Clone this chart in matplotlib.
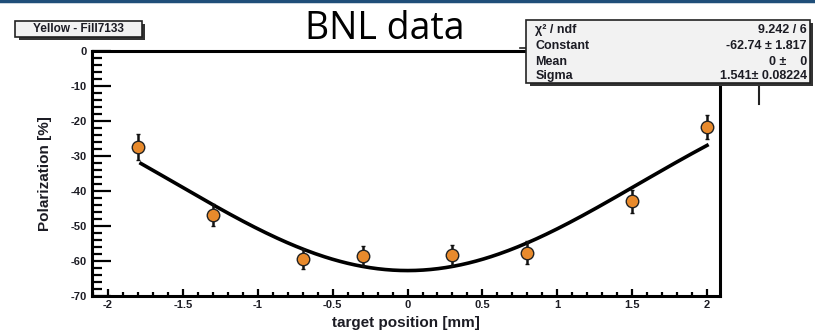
import numpy as np
import matplotlib.pyplot as plt
from matplotlib.ticker import MultipleLocator, FormatStrFormatter
from matplotlib.patches import Rectangle

# measured points
pos = [-1.8, -1.3, -0.7, -0.3, 0.3, 0.8, 1.5, 2.0]
pol = [-27.6, -46.9, -59.4, -58.5, -58.4, -57.7, -43.0, -21.8]
err = [3.7, 3.2, 2.8, 2.8, 2.9, 3.3, 3.3, 3.5]

# gaussian fit result
fit_const = -62.74
fit_mean = 0.0
fit_sigma = 1.541
fit_range = (-1.78, 2.0)

stat_labels = ["χ² / ndf", "Constant", "Mean", "Sigma"]
stat_values = ["9.242 / 6", "-62.74 ± 1.817", "0 ±    0", "1.541± 0.08224"]

plt.rcParams['font.family'] = ['Liberation Sans', 'DejaVu Sans']
plt.rcParams['axes.unicode_minus'] = False
txt = '#1c1c24'

fig = plt.figure(figsize=(8.15, 3.35), dpi=100)
ax = fig.add_axes([0.1129, 0.1164, 0.7706, 0.7323])

xf = np.linspace(fit_range[0], fit_range[1], 300)
yf = fit_const * np.exp(-0.5 * ((xf - fit_mean) / fit_sigma) ** 2)
ax.plot(xf, yf, color='black', lw=2.6, zorder=2)

ax.errorbar(pos, pol, yerr=err, fmt='o', ms=9, mfc='#e88a2c', mec='#222222',
            mew=1.0, ecolor='#111111', elinewidth=1.8, capsize=1.5, capthick=1.5,
            zorder=3)

ax.set_xlim(-2.107, 2.087)
ax.set_ylim(-70, 0)
ax.xaxis.set_major_locator(MultipleLocator(0.5))
ax.xaxis.set_minor_locator(MultipleLocator(0.1))
ax.xaxis.set_major_formatter(FormatStrFormatter('%g'))
ax.yaxis.set_major_locator(MultipleLocator(10))
ax.yaxis.set_minor_locator(MultipleLocator(2))
ax.tick_params(axis='both', which='both', direction='in', width=1.6, colors='black',
               labelcolor=txt, labelsize=8)
ax.tick_params(axis='y', which='major', length=14, pad=4)
ax.tick_params(axis='y', which='minor', length=7)
ax.tick_params(axis='x', which='major', length=5, pad=3)
ax.tick_params(axis='x', which='minor', length=3)
for lab in ax.get_xticklabels() + ax.get_yticklabels():
    lab.set_fontweight('bold')
for s in ax.spines.values():
    s.set_linewidth(2.2)

ax.set_xlabel('target position [mm]', fontsize=11, fontweight='bold', color=txt, labelpad=4)
ax.set_ylabel('Polarization [%]', fontsize=11, fontweight='bold', color=txt, labelpad=13)

# top header line
fig.add_artist(plt.Line2D([0, 1], [0.997, 0.997], color='#1f4e79', lw=2.5,
                          transform=fig.transFigure))

fig.text(0.472, 0.914, 'BNL data', fontsize=27, ha='center', va='center',
         color='black', family=['Open Sans', 'DejaVu Sans'])

# histogram title box with shadow
def box(x0, y0, w, h):
    fig.add_artist(Rectangle((x0 + 0.004, y0 - 0.009), w, h, transform=fig.transFigure,
                             facecolor='#333333', edgecolor='none', zorder=4))
    fig.add_artist(Rectangle((x0, y0), w, h, transform=fig.transFigure,
                             facecolor='#f2f2f2', edgecolor='#222222', lw=1.2, zorder=5))

box(0.019, 0.889, 0.155, 0.048)
fig.text(0.0965, 0.912, 'Yellow - Fill7133', fontsize=8.5, fontweight='bold',
         ha='center', va='center', color=txt, zorder=6)

# stats box
box(0.646, 0.752, 0.348, 0.187)
fig.add_artist(plt.Line2D([0.638, 0.646], [0.858, 0.858], color='#222222', lw=1.2,
                          transform=fig.transFigure))
fig.add_artist(plt.Line2D([0.931, 0.931], [0.69, 0.752], color='#222222', lw=1.5,
                          transform=fig.transFigure))
rows_y = [0.910, 0.864, 0.816, 0.774]
for lab, val, yy in zip(stat_labels, stat_values, rows_y):
    fig.text(0.657, yy, lab, fontsize=9, fontweight='bold', ha='left', va='center',
             color=txt, zorder=6)
    fig.text(0.99, yy, val, fontsize=9, fontweight='bold', ha='right', va='center',
             color=txt, zorder=6)

fig.savefig('out.png', dpi=100)
